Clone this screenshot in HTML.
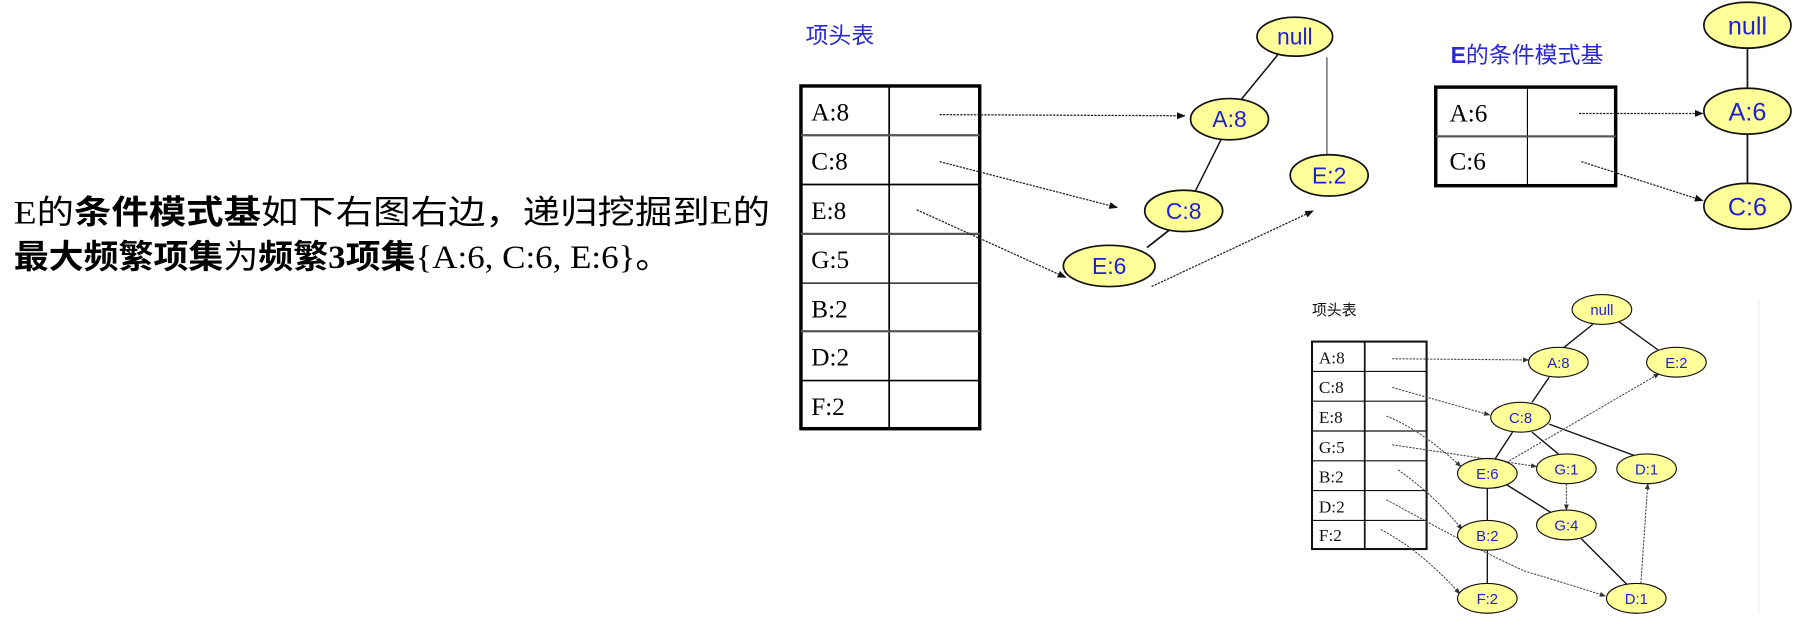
<!DOCTYPE html>
<html><head><meta charset="utf-8"><style>
html,body{margin:0;padding:0;background:#fff;}
svg{display:block;}
</style></head><body>
<svg width="1799" height="627" viewBox="0 0 1570 547" preserveAspectRatio="none" xmlns="http://www.w3.org/2000/svg">
<defs>
<marker id="ah" viewBox="0 0 10 10" refX="9" refY="5" markerWidth="7" markerHeight="7" orient="auto"><path d="M0,1 L10,5 L0,9 z" fill="#111"/></marker>
<marker id="as" viewBox="0 0 10 10" refX="9" refY="5" markerWidth="6" markerHeight="6" orient="auto"><path d="M0,1 L10,5 L0,9 z" fill="#333"/></marker>
</defs>

<!-- left text -->
<text x="12" y="195" font-size="29" textLength="660" lengthAdjust="spacingAndGlyphs" font-family="Liberation Serif, Noto Sans CJK SC, sans-serif" fill="#000"><tspan>E</tspan><tspan font-family="Noto Sans CJK SC, sans-serif">的</tspan><tspan font-family="Noto Sans CJK SC, sans-serif" font-weight="bold">条件模式基</tspan><tspan font-family="Noto Sans CJK SC, sans-serif">如下右图右边，递归挖掘到</tspan><tspan>E</tspan><tspan font-family="Noto Sans CJK SC, sans-serif">的</tspan></text>
<text x="12" y="234" font-size="29" textLength="573" lengthAdjust="spacingAndGlyphs" font-family="Liberation Serif, Noto Sans CJK SC, sans-serif" fill="#000"><tspan font-family="Noto Sans CJK SC, sans-serif" font-weight="bold">最大频繁项集</tspan><tspan font-family="Noto Sans CJK SC, sans-serif">为</tspan><tspan font-family="Noto Sans CJK SC, sans-serif" font-weight="bold">频繁</tspan><tspan font-weight="bold">3</tspan><tspan font-family="Noto Sans CJK SC, sans-serif" font-weight="bold">项集</tspan><tspan>{A:6, C:6, E:6}</tspan><tspan font-family="Noto Sans CJK SC, sans-serif">。</tspan></text>

<!-- Diagram 1 -->
<text x="703" y="38" font-size="20" fill="#2a2ad0" font-family="Noto Sans CJK SC, sans-serif">项头表</text>
<g stroke="#000" fill="none">
<rect x="699" y="75" width="156" height="299" stroke-width="3"/>
<line x1="776" y1="75" x2="776" y2="374" stroke-width="1.5"/>
<line x1="699" y1="118" x2="855" y2="118" stroke="#555" stroke-width="2"/>
<line x1="699" y1="161" x2="855" y2="161" stroke-width="1.5"/>
<line x1="699" y1="204" x2="855" y2="204" stroke="#555" stroke-width="2"/>
<line x1="699" y1="247" x2="855" y2="247" stroke-width="1"/>
<line x1="699" y1="289" x2="855" y2="289" stroke="#555" stroke-width="2"/>
<line x1="699" y1="332" x2="855" y2="332" stroke-width="1.5"/>
</g>
<g font-family="Liberation Serif, serif" font-size="22" fill="#000">
<text x="708" y="105">A:8</text><text x="708" y="148">C:8</text><text x="708" y="191">E:8</text>
<text x="708" y="234">G:5</text><text x="708" y="277">B:2</text><text x="708" y="319">D:2</text><text x="708" y="362">F:2</text>
</g>
<g stroke="#111" stroke-width="1.3" fill="none">
<line x1="1115" y1="48" x2="1083" y2="87"/>
<line x1="1158" y1="50" x2="1158" y2="136" stroke="#444" stroke-width="1"/>
<line x1="1066" y1="121" x2="1043" y2="167"/>
<line x1="1020" y1="201" x2="1001" y2="216" stroke-width="1.5"/>
</g>
<g stroke="#222" stroke-width="1.1" stroke-dasharray="2,1" fill="none">
<line x1="820" y1="100" x2="1034" y2="101" marker-end="url(#ah)"/>
<line x1="820" y1="141" x2="975" y2="181" marker-end="url(#ah)"/>
<line x1="800" y1="183" x2="930" y2="242" marker-end="url(#ah)"/>
<line x1="1005" y1="250" x2="1146" y2="184" marker-end="url(#ah)"/>
</g>
<g fill="#ffff99" stroke="#111" stroke-width="1.5">
<ellipse cx="1130" cy="32" rx="33" ry="17"/>
<ellipse cx="1073" cy="104" rx="34" ry="18"/>
<ellipse cx="1160" cy="153" rx="34" ry="18"/>
<ellipse cx="1033" cy="184" rx="34" ry="18"/>
<ellipse cx="968" cy="232" rx="40" ry="18"/>
</g>
<g font-family="Liberation Sans, sans-serif" font-size="20" fill="#1f1fd6" text-anchor="middle">
<text x="1130" y="39">null</text><text x="1073" y="111">A:8</text><text x="1160" y="160">E:2</text>
<text x="1033" y="191">C:8</text><text x="968" y="239">E:6</text>
</g>

<!-- Diagram 2 -->
<text x="1266" y="55" font-size="20" fill="#2a2ad0" font-family="Noto Sans CJK SC, sans-serif"><tspan font-family="Liberation Sans, sans-serif" font-weight="bold">E</tspan>的条件模式基</text>
<g stroke="#000" fill="none">
<rect x="1253" y="76" width="157" height="86" stroke-width="3"/>
<line x1="1333" y1="76" x2="1333" y2="162" stroke-width="1"/>
<line x1="1253" y1="119" x2="1410" y2="119" stroke="#555" stroke-width="2"/>
</g>
<g font-family="Liberation Serif, serif" font-size="22" fill="#000">
<text x="1265" y="106">A:6</text><text x="1265" y="148">C:6</text>
</g>
<g stroke="#111" stroke-width="1.5"><line x1="1525" y1="40" x2="1525" y2="78"/><line x1="1525" y1="116" x2="1525" y2="160"/></g>
<g stroke="#222" stroke-width="1.1" stroke-dasharray="2,1" fill="none">
<line x1="1378" y1="99" x2="1486" y2="99" marker-end="url(#ah)"/>
<line x1="1380" y1="141" x2="1486" y2="175" marker-end="url(#ah)"/>
</g>
<g fill="#ffff99" stroke="#111" stroke-width="1.5">
<ellipse cx="1525" cy="22" rx="38" ry="20"/>
<ellipse cx="1525" cy="97" rx="38" ry="20"/>
<ellipse cx="1525" cy="180" rx="38" ry="20"/>
</g>
<g font-family="Liberation Sans, sans-serif" font-size="22" fill="#1f1fd6" text-anchor="middle">
<text x="1525" y="30">null</text><text x="1525" y="105">A:6</text><text x="1525" y="188">C:6</text>
</g>

<!-- Diagram 3 -->
<text x="1145" y="275" font-size="13" fill="#111" font-family="Noto Sans CJK SC, sans-serif">项头表</text>
<g stroke="#111" fill="none">
<rect x="1145" y="298" width="100" height="181" stroke-width="1.8"/>
<line x1="1191" y1="298" x2="1191" y2="479" stroke-width="1.5"/>
<line x1="1145" y1="324" x2="1245" y2="324"/><line x1="1145" y1="350" x2="1245" y2="350"/>
<line x1="1145" y1="376" x2="1245" y2="376"/><line x1="1145" y1="402" x2="1245" y2="402"/>
<line x1="1145" y1="428" x2="1245" y2="428"/><line x1="1145" y1="454" x2="1245" y2="454"/>
</g>
<g font-family="Liberation Serif, serif" font-size="15" fill="#111">
<text x="1151" y="317">A:8</text><text x="1151" y="343">C:8</text><text x="1151" y="369">E:8</text>
<text x="1151" y="395">G:5</text><text x="1151" y="421">B:2</text><text x="1151" y="447">D:2</text><text x="1151" y="472">F:2</text>
</g>
<g stroke="#111" stroke-width="1.2" fill="none">
<line x1="1390" y1="283" x2="1365" y2="303"/>
<line x1="1412" y1="280" x2="1448" y2="306"/>
<line x1="1352" y1="329" x2="1337" y2="351"/>
<line x1="1320" y1="377" x2="1305" y2="400"/>
<line x1="1337" y1="377" x2="1360" y2="396"/>
<line x1="1352" y1="370" x2="1428" y2="398"/>
<line x1="1298" y1="426" x2="1298" y2="454"/>
<line x1="1315" y1="423" x2="1355" y2="448"/>
<line x1="1298" y1="480" x2="1298" y2="509"/>
<line x1="1380" y1="470" x2="1420" y2="510"/>
</g>
<g stroke="#444" stroke-width="0.9" stroke-dasharray="2,1" fill="none">
<line x1="1215" y1="313" x2="1334" y2="314" marker-end="url(#as)"/>
<line x1="1215" y1="338" x2="1300" y2="362" marker-end="url(#as)"/>
<path d="M1210,363 Q1240,375 1275,407" marker-end="url(#as)"/>
<line x1="1215" y1="388" x2="1341" y2="407" marker-end="url(#as)"/>
<path d="M1220,410 Q1250,430 1276,462" marker-end="url(#as)"/>
<path d="M1210,436 Q1290,480 1330,498 Q1370,510 1401,520" marker-end="url(#as)"/>
<path d="M1205,462 Q1240,480 1274,518" marker-end="url(#as)"/>
<line x1="1312" y1="405" x2="1448" y2="326" marker-end="url(#as)"/>
<line x1="1367" y1="422" x2="1367" y2="445" marker-end="url(#as)"/>
<line x1="1432" y1="509" x2="1438" y2="422" marker-end="url(#as)"/>
</g>
<g fill="#ffff99" stroke="#111" stroke-width="1">
<ellipse cx="1398" cy="270" rx="26" ry="13"/>
<ellipse cx="1360" cy="316" rx="26" ry="13"/>
<ellipse cx="1463" cy="316" rx="26" ry="13"/>
<ellipse cx="1327" cy="364" rx="26" ry="13"/>
<ellipse cx="1298" cy="413" rx="26" ry="13"/>
<ellipse cx="1367" cy="409" rx="26" ry="13"/>
<ellipse cx="1437" cy="409" rx="26" ry="13"/>
<ellipse cx="1298" cy="467" rx="26" ry="13"/>
<ellipse cx="1367" cy="458" rx="26" ry="13"/>
<ellipse cx="1298" cy="522" rx="26" ry="13"/>
<ellipse cx="1428" cy="522" rx="26" ry="13"/>
</g>
<g font-family="Liberation Sans, sans-serif" font-size="13" fill="#1f1fd6" text-anchor="middle">
<text x="1398" y="275">null</text><text x="1360" y="321">A:8</text><text x="1463" y="321">E:2</text>
<text x="1327" y="369">C:8</text><text x="1298" y="418">E:6</text><text x="1367" y="414">G:1</text>
<text x="1437" y="414">D:1</text><text x="1298" y="472">B:2</text><text x="1367" y="463">G:4</text>
<text x="1298" y="527">F:2</text><text x="1428" y="527">D:1</text>
</g>
<line x1="1535" y1="262" x2="1535" y2="535" stroke="#eee" stroke-width="1"/>
</svg>
</body></html>
